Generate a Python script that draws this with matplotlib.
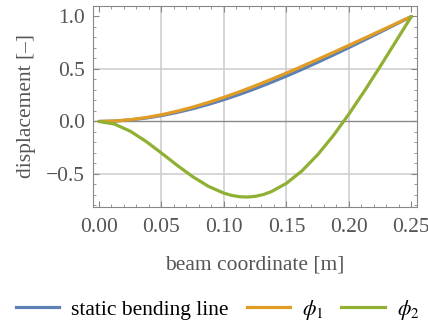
import matplotlib
matplotlib.use("Agg")
import matplotlib.pyplot as plt
from matplotlib.ticker import MultipleLocator
from matplotlib.lines import Line2D

x = [0.0, 0.0125, 0.025, 0.0375, 0.05, 0.0625, 0.075, 0.0875, 0.10, 0.1125,
     0.125, 0.1375, 0.15, 0.1625, 0.175, 0.1875, 0.20, 0.2125, 0.225, 0.2375, 0.25]
static_line = [0.0, 0.0037, 0.0145, 0.0321, 0.0560, 0.0859, 0.1215, 0.1623, 0.2080, 0.2582,
               0.3125, 0.3706, 0.4320, 0.4964, 0.5635, 0.6328, 0.7040, 0.7767, 0.8505, 0.9251, 1.0]
phi1 = [0.0, 0.0043, 0.0168, 0.0368, 0.0639, 0.0973, 0.1365, 0.1809, 0.2299, 0.2829,
        0.3395, 0.3991, 0.4611, 0.5252, 0.5909, 0.6577, 0.7255, 0.7938, 0.8624, 0.9312, 1.0]
x2 = [0.0, 0.0125, 0.025, 0.0375, 0.05, 0.0625, 0.075, 0.0875, 0.10, 0.10625, 0.1125,
      0.11875, 0.125, 0.13125, 0.1375, 0.15, 0.1625, 0.175, 0.1875, 0.20, 0.2125, 0.225,
      0.2375, 0.25]
phi2 = [0.0, -0.0253, -0.0927, -0.1888, -0.3012, -0.4173, -0.5261, -0.6177, -0.6834, -0.7046,
        -0.7169, -0.7201, -0.7136, -0.6974, -0.6712, -0.5895, -0.4702, -0.3171, -0.1350,
        0.0700, 0.2916, 0.5236, 0.7610, 1.0]

labels = ["static bending line", r"$\phi_1$", r"$\phi_2$"]
colors = ["#5E81B5", "#E19C24", "#8FB032"]
xticks = [0.00, 0.05, 0.10, 0.15, 0.20, 0.25]
yticks = [-0.5, 0.0, 0.5, 1.0]

plt.rcParams['font.family'] = ['Liberation Serif', 'DejaVu Serif']
plt.rcParams['mathtext.fontset'] = 'stix'

FS = 15.5
fig = plt.figure(figsize=(4.28, 3.28), dpi=100)
ax = fig.add_axes([93/428, 1 - 207/328, (417-93)/428, (207-6)/328])

tick_col = "#555555"
frame_col = "#888888"

for xv in [0.05, 0.10, 0.15, 0.20]:
    ax.axvline(xv, color="#cfcfcf", lw=1.2, zorder=0)
for yv in [-0.5, 0.5]:
    ax.axhline(yv, color="#cfcfcf", lw=1.2, zorder=0)
ax.axhline(0.0, color="#8a8a8a", lw=1.0, zorder=1)

ax.plot(x, static_line, color=colors[0], lw=2.3, solid_capstyle='round', zorder=3)
ax.plot(x, phi1, color=colors[1], lw=2.3, solid_capstyle='round', zorder=3)
ax.plot(x2, phi2, color=colors[2], lw=2.3, solid_capstyle='round', solid_joinstyle='round', zorder=3)

ax.set_xlim(-0.0048, 0.2545)
ax.set_ylim(-0.815, 1.10)
ax.set_xticks(xticks)
ax.set_xticklabels([f"{v:.2f}" for v in xticks])
ax.set_yticks(yticks)
ax.set_yticklabels(["\u22120.5", "0.0", "0.5", "1.0"])
ax.xaxis.set_minor_locator(MultipleLocator(0.01))
ax.yaxis.set_minor_locator(MultipleLocator(0.1))
ax.tick_params(which='both', direction='in', top=True, right=True, color=frame_col,
               labelcolor=tick_col, labelsize=FS)
ax.tick_params(which='major', length=4, width=0.8)
ax.tick_params(which='minor', length=2, width=0.6)
ax.tick_params(axis='x', pad=8)
ax.tick_params(axis='y', pad=6)
for s in ax.spines.values():
    s.set_color(frame_col)
    s.set_linewidth(0.8)

ax.set_xlabel("beam coordinate [m]", fontsize=FS, color=tick_col, labelpad=13)
ax.set_ylabel("displacement [\u2013]", fontsize=FS, color=tick_col, labelpad=7)

handles = [Line2D([0], [0], color=c, lw=2.3) for c in colors]
fig.legend(handles, labels, loc='center', bbox_to_anchor=(0.508, 1 - 310/328), ncol=3,
           frameon=False, fontsize=FS, handlelength=2.0, columnspacing=0.85,
           handletextpad=0.56, borderpad=0, borderaxespad=0)

fig.savefig("out.png", dpi=100)
